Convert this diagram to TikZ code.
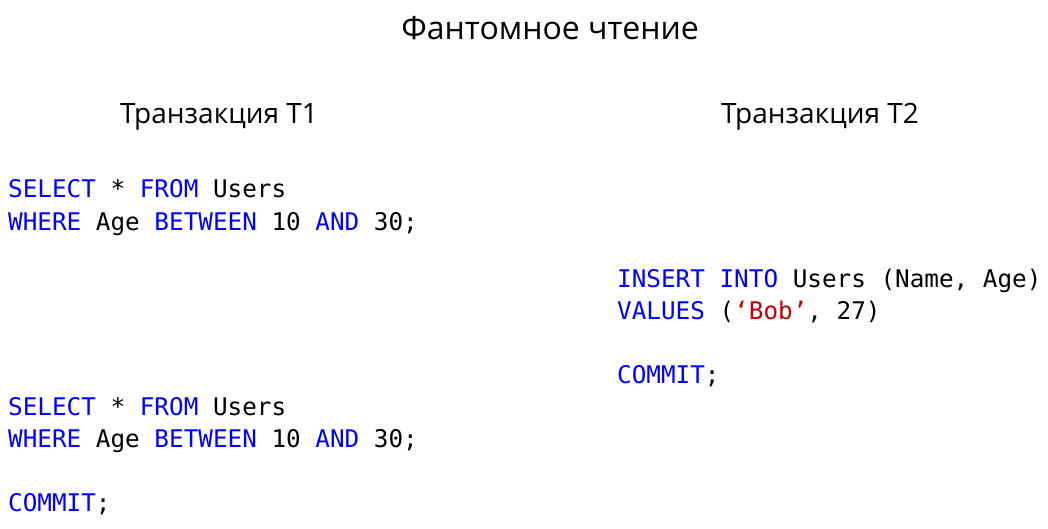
\documentclass[tikz,border=0pt]{standalone}
\usepackage{fontspec}
\setmainfont{Open Sans}
\newfontfamily\codefont{DejaVu Sans Mono}
\definecolor{kwblue}{RGB}{0,0,255}
\definecolor{strred}{RGB}{192,0,0}
\newcommand{\kw}[1]{\textcolor{kwblue}{#1}}
\newcommand{\str}[1]{\textcolor{strred}{#1}}
\begin{document}
\begin{tikzpicture}[x=1pt,y=1pt,
  title/.style={font=\fontsize{32}{38}\selectfont, inner sep=0pt, anchor=base},
  head/.style={font=\fontsize{28}{34}\selectfont, inner sep=0pt, anchor=base},
  code/.style={font=\codefont\fontsize{24.3}{32}\selectfont, inner sep=0pt, anchor=base west}]
\useasboundingbox (0,0) rectangle (1048,-529);
\node[title] (ttl) at (550,-40) {Фантомное чтение};
\node[head] (h1) at (219,-124) {Транзакция T1};
\node[head] (h2) at (820,-124) {Транзакция T2};
\node[code] (a1) at (8,-198) {\kw{SELECT} * \kw{FROM} Users};
\node[code] (a2) at (8,-230) {\kw{WHERE} Age \kw{BETWEEN} 10 \kw{AND} 30;};
\node[code] (b1) at (617,-287) {\kw{INSERT} \kw{INTO} Users (Name, Age)};
\node[code] (b2) at (617,-319) {\kw{VALUES} (\str{‘Bob’}, 27)};
\node[code] (b3) at (617,-383) {\kw{COMMIT};};
\node[code] (c1) at (8,-415) {\kw{SELECT} * \kw{FROM} Users};
\node[code] (c2) at (8,-447) {\kw{WHERE} Age \kw{BETWEEN} 10 \kw{AND} 30;};
\node[code] (c3) at (8,-511) {\kw{COMMIT};};
\end{tikzpicture}
\end{document}
